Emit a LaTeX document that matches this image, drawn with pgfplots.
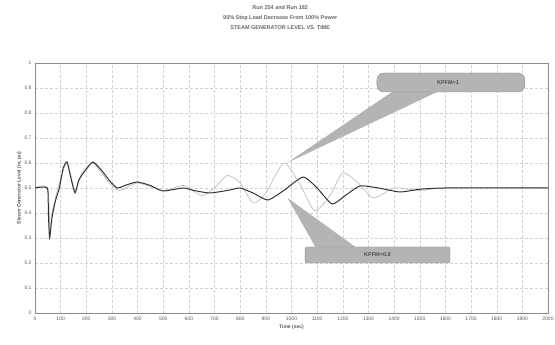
\documentclass[border=0pt]{standalone}
\usepackage{pgfplots}
\pgfplotsset{compat=1.18}
\usepackage{fontspec}
\setmainfont{Liberation Sans}
\definecolor{axgray}{HTML}{8A8A8A}
\definecolor{gridgray}{HTML}{D2D2D2}
\definecolor{boxgray}{HTML}{B4B4B4}
\begin{document}
\begin{tikzpicture}
\useasboundingbox (-35pt,-32pt) rectangle (520pt,313pt);
\begin{axis}[
  scale only axis, width=513pt, height=250pt,
  at={(0,0)}, anchor=south west,
  xmin=0, xmax=2000, ymin=0, ymax=1,
  xtick={0,100,...,2000}, ytick={0,0.1,...,1.0},
  yticklabels={0,0.1,0.2,0.3,0.4,0.5,0.6,0.7,0.8,0.9,1},
  /pgf/number format/assume math mode=true,
  /pgf/number format/1000 sep={},
  tick label style={font=\fontsize{5}{6}\selectfont, text=black!65},
  grid=major, major grid style={gridgray, densely dashed, line width=0.4pt},
  axis line style={axgray, line width=0.9pt},
  tick style={draw=none},
  xlabel={Time (sec)}, ylabel={Steam Generator Level (m, pu)},
  label style={font=\fontsize{5}{6}\selectfont\bfseries, text=black!65},
  xlabel style={yshift=2pt}, ylabel style={yshift=-4pt},
  clip=false,
]
% KPFM=1 (light)
\addplot[gray!50, line width=0.7pt, smooth, tension=0.4] coordinates {
(0,0.5) (50,0.5) (58,0.32) (66,0.40) (95,0.52) (125,0.60) (156,0.49) (183,0.56) (226,0.60) (290,0.52) (330,0.49) (400,0.52) (500,0.49) (580,0.51) (650,0.47) (700,0.50) (750,0.55) (800,0.52) (850,0.44) (900,0.48) (970,0.60) (1030,0.52) (1090,0.41) (1150,0.47) (1200,0.56) (1260,0.52) (1320,0.46) (1400,0.50) (1500,0.49) (1600,0.50) (2000,0.50)
};
% KPFM=0.8 (dark)
\addplot[black!80, line width=1.0pt, smooth, tension=0.35] coordinates {
(0,0.5) (48,0.5) (52,0.40) (57,0.30) (66,0.38) (80,0.45) (95,0.50) (110,0.58) (125,0.604) (140,0.54) (156,0.48) (170,0.53) (183,0.552) (200,0.575) (226,0.604) (260,0.57) (290,0.53) (320,0.50) (350,0.51) (398,0.524) (450,0.51) (499,0.488) (577,0.50) (620,0.49) (682,0.48) (760,0.492) (799,0.50) (850,0.48) (908,0.452) (970,0.49) (1045,0.544) (1100,0.50) (1158,0.436) (1210,0.47) (1267,0.508) (1340,0.50) (1423,0.484) (1500,0.495) (1600,0.50) (2000,0.50)
};
% callout KPFM=1
\fill[boxgray] (axis cs:1400,0.89) -- (axis cs:982,0.60) -- (axis cs:1580,0.89) -- cycle;
\draw[boxgray!80!black, fill=boxgray, rounded corners=7pt] (axis cs:1333,0.884) rectangle (axis cs:1910,0.96);
\node[font=\fontsize{5.5}{6.5}\selectfont\bfseries, text=black!70] at (axis cs:1610,0.922) {KPFM=1};
% callout KPFM=0.8
\fill[boxgray] (axis cs:1095,0.26) -- (axis cs:985,0.46) -- (axis cs:1255,0.26) -- cycle;
\draw[boxgray!80!black, fill=boxgray, rounded corners=2pt] (axis cs:1053,0.2) rectangle (axis cs:1618,0.264);
\node[font=\fontsize{5.5}{6.5}\selectfont\bfseries, text=black!70] at (axis cs:1335,0.232) {KPFM=0.8};
% title
\node[align=center, font=\fontsize{5.5}{10}\selectfont\bfseries, text=black!60] at (rel axis cs:0.478,1) [yshift=45pt] {Run 254 and Run 182\\95\% Step Load Decrease From 100\% Power\\STEAM GENERATOR LEVEL VS. TIME};
\end{axis}
\end{tikzpicture}
\end{document}
